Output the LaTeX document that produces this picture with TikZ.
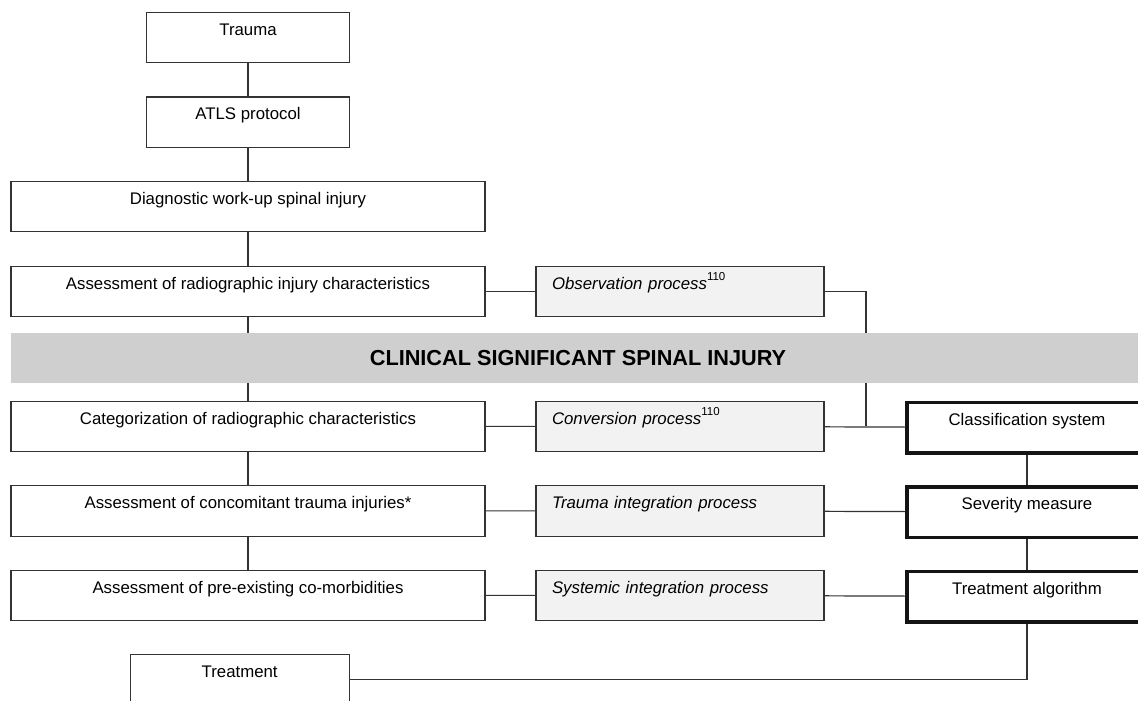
\documentclass[tikz,border=0pt]{standalone}
\usepackage{fontspec}
\setmainfont{Liberation Sans}
\newcommand{\supref}[1]{\raisebox{8.5pt}{\fontsize{11.5}{12}\selectfont\upshape #1}}

\begin{document}
\begin{tikzpicture}[x=1pt,y=-1pt,
  box/.style={draw=black!80,line width=1.2pt,inner xsep=0pt,inner ysep=0pt,
    text height=23pt,text depth=27.5pt,anchor=north,font=\fontsize{16.8}{20}\selectfont},
  topbox/.style={box,minimum width=203pt},
  mainbox/.style={box,minimum width=474pt},
  procbox/.style={box,fill=black!5,text width=256pt,align=left,inner xsep=16pt},
  resbox/.style={box,draw=black!92,line width=3.5pt,minimum width=240pt},
  banner/.style={fill=black!19,minimum width=1134pt,minimum height=50.5pt,
    font=\fontsize{21.7}{24}\selectfont\bfseries},
  link/.style={draw=black!80,line width=1.2pt}]
  \useasboundingbox (0,0) rectangle (1138,701);
  \clip (0,0) rectangle (1138,701);

  % left column
  \node[topbox] (trauma) at (248,11.7) {Trauma};
  \node[topbox] (atls) at (248,96.3) {ATLS protocol};
  \node[mainbox] (diag) at (248,180.7) {Diagnostic work-up spinal injury};
  \node[mainbox] (assess) at (248,265.5) {Assessment of radiographic injury characteristics};
  \node[mainbox] (categ) at (248,400.5) {Categorization of radiographic characteristics};
  \node[mainbox] (conc) at (248,485) {Assessment of concomitant trauma injuries*};
  \node[mainbox] (pre) at (248,569.5) {Assessment of pre-existing co-morbidities};
  \node[topbox,minimum width=219pt] (treat) at (239.7,654) {Treatment};

  % processes
  \node[procbox] (obs) at (680,265.5) {\textit{Observation process}\supref{110}};
  \node[procbox] (conv) at (680,400.5) {\textit{Conversion process}\supref{110}};
  \node[procbox] (trint) at (680,485) {\textit{Trauma integration process}};
  \node[procbox] (sysint) at (680,569.5) {\textit{Systemic integration process}};

  % outcome
  \node[resbox] (class) at (1027,400.5) {Classification system};
  \node[resbox] (sev) at (1027,485) {Severity measure};
  \node[resbox] (talg) at (1027,569.5) {Treatment algorithm};

  \coordinate (join) at (866,425.75);

  \draw[link] (trauma) -- (atls) -- (diag) -- (assess) -- (categ) -- (conc) -- (pre);
  \draw[link] (assess) -- (obs);
  \draw[link] (obs.east) -| (join);
  \draw[link] (categ) -- (conv) -- (class);
  \draw[link] (conc) -- (trint) -- (sev);
  \draw[link] (pre) -- (sysint) -- (talg);
  \draw[link] (class) -- (sev) -- (talg);
  \draw[link] (talg.south) |- (treat.east);

  \node[banner] (csi) at (578,358) {CLINICAL SIGNIFICANT SPINAL INJURY};

\end{tikzpicture}
\end{document}
